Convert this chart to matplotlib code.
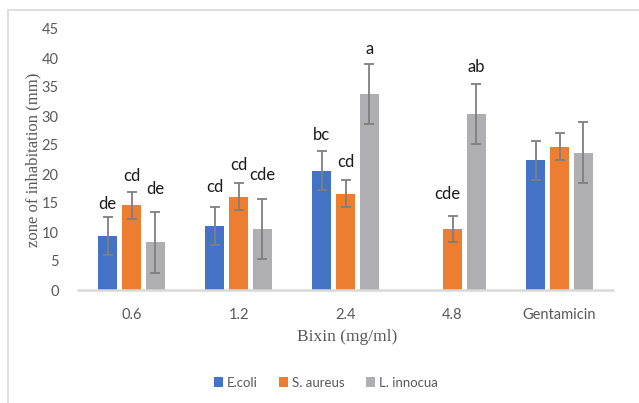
import numpy as np
import matplotlib
matplotlib.use("Agg")
import matplotlib.pyplot as plt
from matplotlib.patches import Rectangle

# data
categories = ["0.6", "1.2", "2.4", "4.8", "Gentamicin"]
series_names = ["E.coli", "S. aureus", "L. innocua"]

ecoli_vals = [9.3, 11.0, 20.6, 0.0, 22.4]
saureus_vals = [14.6, 16.1, 16.6, 10.5, 24.7]
linnocua_vals = [8.2, 10.5, 33.8, 30.3, 23.7]

ecoli_err = [3.3, 3.3, 3.4, 0.0, 3.35]
saureus_err = [2.35, 2.35, 2.3, 2.3, 2.35]
linnocua_err = [5.2, 5.2, 5.2, 5.2, 5.2]

ecoli_letters = ["de", "cd", "bc", "", ""]
saureus_letters = ["cd", "cd", "cd", "cde", ""]
linnocua_letters = ["de", "cde", "a", "ab", ""]

# label heights (data units) as placed in the original
ecoli_label_y = [14.8, 17.8, 26.7, 0, 0]
saureus_label_y = [19.7, 21.6, 22.1, 16.5, 0]
linnocua_label_y = [17.4, 19.9, 41.5, 38.4, 0]

colors = ["#4472C4", "#ED7D31", "#AFAFB2"]
err_color = "#7F7F7F"
tick_color = "#595959"

tick_font = "Lato"
title_font = "Liberation Serif"

fig = plt.figure(figsize=(6.39, 4.03), dpi=100)
ax = fig.add_axes([78 / 639, 1 - 290 / 403, 535 / 639, 261 / 403])

# light frame round the chart (cropped at right/bottom)
fig.patches.append(Rectangle((8 / 639, -0.1), 1.2, 1 - 10 / 403 + 0.1,
                             transform=fig.transFigure, fill=False,
                             edgecolor="#D9D9D9", linewidth=1.2))

x = np.arange(len(categories))
bar_w = 0.178
step = 0.224

all_vals = [ecoli_vals, saureus_vals, linnocua_vals]
all_err = [ecoli_err, saureus_err, linnocua_err]
all_letters = [ecoli_letters, saureus_letters, linnocua_letters]
all_label_y = [ecoli_label_y, saureus_label_y, linnocua_label_y]

for i, name in enumerate(series_names):
    vals = np.array(all_vals[i], dtype=float)
    errs = np.array(all_err[i], dtype=float)
    pos = x + (i - 1) * step
    ax.bar(pos, vals, width=bar_w, color=colors[i], label=name, zorder=2)

    # skip the error bar where there is no bar
    y_eb = np.where(vals > 0, vals, np.nan)
    ax.errorbar(pos, y_eb, yerr=errs, fmt="none", ecolor=err_color,
                elinewidth=1.3, capsize=3.5, capthick=1.3, zorder=3)

    for j, letter in enumerate(all_letters[i]):
        if letter:
            dx = -0.05 if letter == "cde" and j == 3 else 0.0
            ax.text(pos[j] + dx, all_label_y[i][j], letter, ha="center",
                    va="center", fontsize=12, color="#1a1a1a",
                    family=tick_font)

ax.set_xlim(-0.5, 4.5)
ax.set_ylim(0, 45)
ax.set_yticks(np.arange(0, 46, 5))
ax.set_xticks(x)
ax.set_xticklabels(categories)

for s in ["top", "right", "left"]:
    ax.spines[s].set_visible(False)
ax.spines["bottom"].set_color("#D9D9D9")
ax.spines["bottom"].set_linewidth(1.8)

ax.tick_params(axis="both", length=0, colors=tick_color, labelsize=10.5)
ax.tick_params(axis="y", pad=14)
ax.tick_params(axis="x", pad=13)
for lbl in ax.get_xticklabels() + ax.get_yticklabels():
    lbl.set_family(tick_font)

ax.set_xlabel("Bixin (mg/ml)", fontsize=12.5, color=tick_color,
              family=title_font)
ax.xaxis.set_label_coords(0.503, -0.148)
ax.set_ylabel("zone of inhabitation (mm)", fontsize=12, color=tick_color,
              family=title_font)
ax.yaxis.set_label_coords(-0.068, 0.5)

leg = ax.legend(loc="center", bbox_to_anchor=(0.463, -0.355), ncol=3,
                frameon=False, handlelength=0.7, handleheight=0.7,
                handletextpad=0.3, columnspacing=1.6,
                prop={"family": tick_font, "size": 9.5})
for t in leg.get_texts():
    t.set_color(tick_color)

fig.savefig("out.png", dpi=100)
